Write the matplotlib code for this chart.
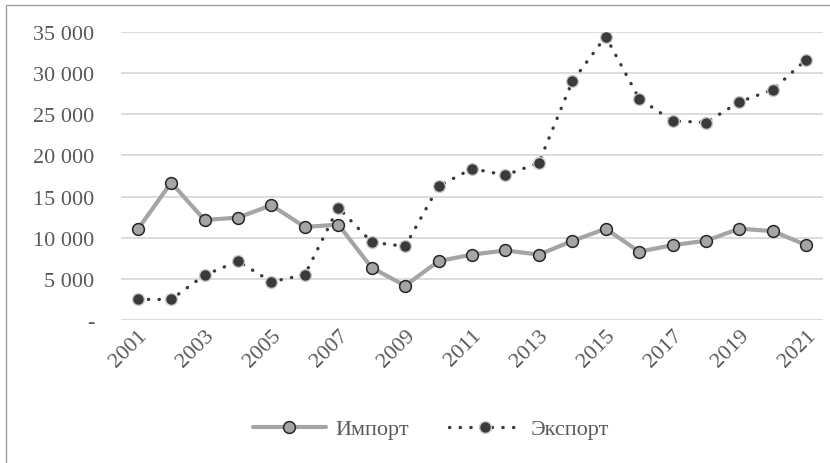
import matplotlib
matplotlib.use("Agg")
import matplotlib.pyplot as plt
from matplotlib.lines import Line2D
from matplotlib.patches import Rectangle

years = list(range(2001, 2022))
imports = [11000, 16700, 12150, 12450, 13950, 11300, 11600, 6350, 4170, 7150,
           7950, 8450, 7950, 9600, 11100, 8300, 9100, 9630, 11100, 10800, 9100]
exports = [2500, 2500, 5450, 7150, 4650, 5500, 13650, 9450, 8950, 16250,
           18400, 17600, 19100, 29000, 34450, 26900, 24200, 24000, 26500, 28000, 31650]
yticks = [0, 5000, 10000, 15000, 20000, 25000, 30000, 35000]
ytick_labels = ["-", "5 000", "10 000", "15 000", "20 000", "25 000", "30 000", "35 000"]
series_names = ["Импорт", "Экспорт"]

W, H = 830, 464
fig = plt.figure(figsize=(W / 100, H / 100), dpi=100)
plt.rcParams['font.family'] = ['Liberation Serif', 'DejaVu Serif']
txt = '#595959'

left, right, top, bottom = 121, 823, 33, 321
ax = fig.add_axes([left / W, 1 - bottom / H, (right - left) / W, (bottom - top) / H])

imp_style = dict(color='#A5A5A5', lw=3.0, solid_capstyle='round', solid_joinstyle='round',
                 marker='o', ms=8.5, mfc='#A5A5A5', mec='#262626', mew=1.1)
exp_style = dict(color='#3a3a3a', lw=2.4, linestyle=(0, (0.1, 3.1)), dash_capstyle='round',
                 marker='o', ms=8.5, mfc='#3a3a3a', mec='#c8c8c8', mew=1.0)

x = list(range(len(years)))
ax.plot(x, imports, zorder=3, **imp_style)
ax.plot(x, exports, zorder=4, **exp_style)

ax.set_xlim(-0.5, len(years) - 0.5)
ax.set_ylim(0, 35000)
ax.set_yticks(yticks)
ax.set_yticklabels(ytick_labels)
ax.set_xticks(x[::2])
ax.set_xticklabels([str(y) for y in years[::2]], rotation=45, ha='right', va='top',
                   rotation_mode='anchor')
ax.tick_params(axis='both', length=0, labelsize=16, labelcolor=txt)
ax.tick_params(axis='y', pad=19)
ax.tick_params(axis='x', pad=4)
for y in yticks:
    ax.axhline(y, color='#d9d9d9', lw=1.3, zorder=1)
for s in ax.spines.values():
    s.set_visible(False)

handles = [Line2D([], [], **imp_style), Line2D([], [], **exp_style)]
leg = fig.legend(handles, series_names, loc='center', bbox_to_anchor=(431 / W, 1 - 430 / H),
                 ncol=2, frameon=False, fontsize=16, handlelength=3.3, columnspacing=1.8,
                 handletextpad=0.4)
for t in leg.get_texts():
    t.set_color(txt)

fig.patches.append(Rectangle((6 / W, -0.1), 1.2, (1 - 6 / H) + 0.1, transform=fig.transFigure,
                             fill=False, edgecolor='#a0a0a0', lw=1.0, zorder=0))

fig.savefig('out.png', dpi=100)
